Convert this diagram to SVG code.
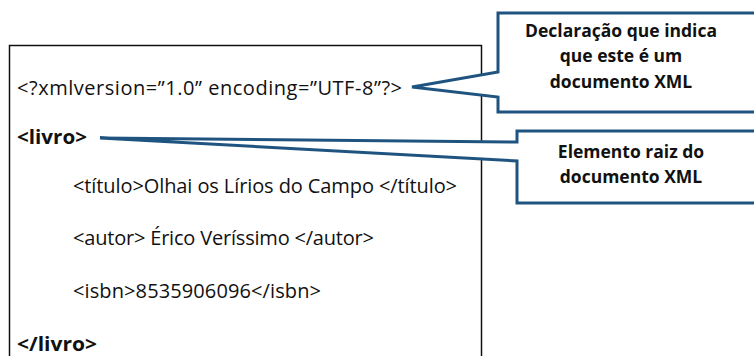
<svg xmlns="http://www.w3.org/2000/svg" width="754" height="356" viewBox="0 0 754 356">
  <style>
    .code { font-family: "Open Sans", "Liberation Sans", sans-serif; font-size: 20px; fill: #111; }
    .tag { font-weight: bold; }
    .note { font-family: "Open Sans", "Liberation Sans", sans-serif; font-size: 17.5px; font-weight: bold; fill: #111; text-anchor: middle; }
    .callout { fill: #fff; stroke: #1f5480; stroke-width: 3; stroke-linejoin: miter; }
  </style>
  <rect width="754" height="356" fill="#fff"/>

  <!-- XML listing -->
  <g id="listing">
    <rect x="9.5" y="45.5" width="472" height="330" fill="none" stroke="#111" stroke-width="1.5"/>
    <text class="code" x="17" y="95" textLength="385" lengthAdjust="spacing">&lt;?xmlversion=”1.0” encoding=”UTF-8”?&gt;</text>
    <text class="code tag" x="17" y="144" textLength="70" lengthAdjust="spacingAndGlyphs">&lt;livro&gt;</text>
    <text class="code" x="73" y="193" textLength="384" lengthAdjust="spacing">&lt;título&gt;Olhai os Lírios do Campo &lt;/título&gt;</text>
    <text class="code" x="73" y="245" textLength="301" lengthAdjust="spacing">&lt;autor&gt; Érico Veríssimo &lt;/autor&gt;</text>
    <text class="code" x="73" y="298" textLength="248" lengthAdjust="spacing">&lt;isbn&gt;8535906096&lt;/isbn&gt;</text>
    <text class="code tag" x="17" y="351" textLength="80" lengthAdjust="spacingAndGlyphs">&lt;/livro&gt;</text>
  </g>

  <!-- callout: XML declaration -->
  <g id="callout-declaracao">
    <path class="callout" d="M498,72 L498,13 L760,13 L760,112 L498,112 L498,97 L412,87 Z"/>
    <text class="note" x="621" y="37">Declaração que indica</text>
    <text class="note" x="621" y="62">que este é um</text>
    <text class="note" x="621" y="88">documento XML</text>
  </g>

  <!-- callout: root element -->
  <g id="callout-raiz">
    <path class="callout" d="M517,142 L517,131 L760,131 L760,203 L517,203 L517,161 L100,138 Z"/>
    <text class="note" x="631" y="158">Elemento raiz do</text>
    <text class="note" x="631" y="183">documento XML</text>
  </g>
</svg>
